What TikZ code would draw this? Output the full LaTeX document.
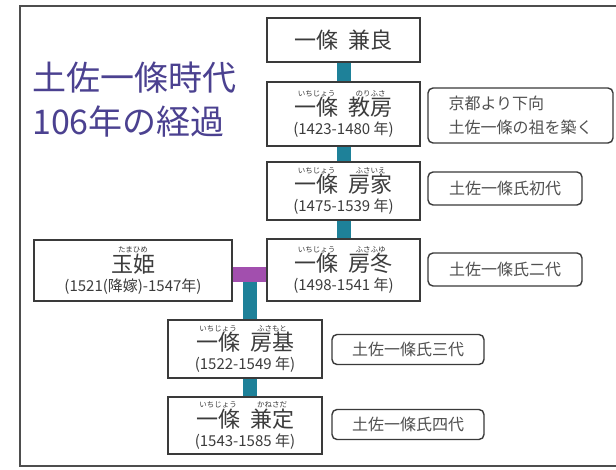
\documentclass[tikz,border=0pt]{standalone}
\usepackage{fontspec}
\setmainfont{Noto Sans CJK JP}
\definecolor{boxline}{HTML}{3A3A3A}
\definecolor{txt}{HTML}{3C3C3C}
\definecolor{txtb}{HTML}{505050}
\definecolor{tealc}{HTML}{1E8199}
\definecolor{purp}{HTML}{A24FAE}
\definecolor{titlec}{HTML}{4B4190}
\newcommand\rubyw[2]{\leavevmode\vbox{\offinterlineskip\halign{\hfil##\hfil\cr\fontsize{7.5}{7.5}\selectfont #2\cr\noalign{\kern0.5pt}#1\cr}}}
\newcommand\nmf{\fontsize{22}{24}\selectfont}
\tikzset{
  famebox/.style={draw=boxline, line width=1.4pt, fill=white, inner sep=0pt, align=center,
                  text=txt, font=\fontsize{15}{17}\selectfont},
  notebox/.style={draw=boxline, line width=1.4pt, rounded corners=5pt, inner sep=0pt,
                  text=txtb, font=\fontsize{16}{24}\selectfont},
  tealbar/.style={draw=tealc, line width=14pt},
  purplebar/.style={draw=purp, line width=15pt},
}
\begin{document}
\begin{tikzpicture}[x=1pt,y=-1pt]
\useasboundingbox (0,0) rectangle (616,470);
\fill[white] (0,0) rectangle (616,470);
% outer frame
\draw[draw=boxline!90, line width=1.6pt] (617,6) -- (20,6) -- (20,466) -- (617,466);
% title
\node[anchor=west, align=left, text=titlec, font=\fontsize{34}{44}\selectfont, inner sep=0pt]
  (title) at (32,100) {土佐一條時代\\106年の経過};
% family boxes
\node[famebox, minimum width=153pt, minimum height=44pt] (kaneY) at (343.5,40)
  {{\nmf 一條\hspace{10pt}兼良}};
\node[famebox, minimum width=153pt, minimum height=64pt] (noriF) at (343.5,114)
  {{\nmf\rubyw{一條}{いちじょう}\hspace{10pt}\rubyw{教房}{のりふさ}}\\[2pt](1423-1480 年)};
\node[famebox, minimum width=153pt, minimum height=58pt] (fusaI) at (343.5,191)
  {{\nmf\rubyw{一條}{いちじょう}\hspace{10pt}\rubyw{房家}{ふさいえ}}\\[2pt](1475-1539 年)};
\node[famebox, minimum width=153pt, minimum height=62pt] (fusaF) at (343.5,270)
  {{\nmf\rubyw{一條}{いちじょう}\hspace{10pt}\rubyw{房冬}{ふさふゆ}}\\[2pt](1498-1541 年)};
\node[famebox, minimum width=198pt, minimum height=61pt] (tama) at (133,270.5)
  {{\nmf\rubyw{玉姫}{たまひめ}}\\[2pt](1521(降嫁)-1547年)};
\node[famebox, minimum width=154pt, minimum height=58pt] (fusaM) at (245,349)
  {{\nmf\rubyw{一條}{いちじょう}\hspace{10pt}\rubyw{房基}{ふさもと}}\\[2pt](1522-1549 年)};
\node[famebox, minimum width=154pt, minimum height=57pt] (kaneS) at (245,425.5)
  {{\nmf\rubyw{一條}{いちじょう}\hspace{10pt}\rubyw{兼定}{かねさだ}}\\[2pt](1543-1585 年)};
% note boxes
\node[notebox, minimum width=185pt, minimum height=55pt, align=left] (n1) at (520.5,115.5)
  {京都より下向\\土佐一條の祖を築く};
\node[notebox, minimum width=154pt, minimum height=33pt] (n2) at (505,188.5) {土佐一條氏初代};
\node[notebox, minimum width=154pt, minimum height=33pt] (n3) at (505,269.5) {土佐一條氏二代};
\node[notebox, minimum width=152pt, minimum height=30pt] (n4) at (408,349.5) {土佐一條氏三代};
\node[notebox, minimum width=152pt, minimum height=30pt] (n5) at (408,424.5) {土佐一條氏四代};
% connectors
\coordinate (jn) at (250,274.5);
\draw[tealbar] (kaneY.south) -- (noriF.north);
\draw[tealbar] (noriF.south) -- (fusaI.north);
\draw[tealbar] (fusaI.south) -- (fusaF.north);
\draw[tealbar] (jn) -- (jn |- fusaM.north);
\draw[purplebar] (tama.east |- jn) -- (fusaF.west |- jn);
\draw[tealbar] (fusaM.south -| jn) -- (kaneS.north -| jn);
\end{tikzpicture}
\end{document}
